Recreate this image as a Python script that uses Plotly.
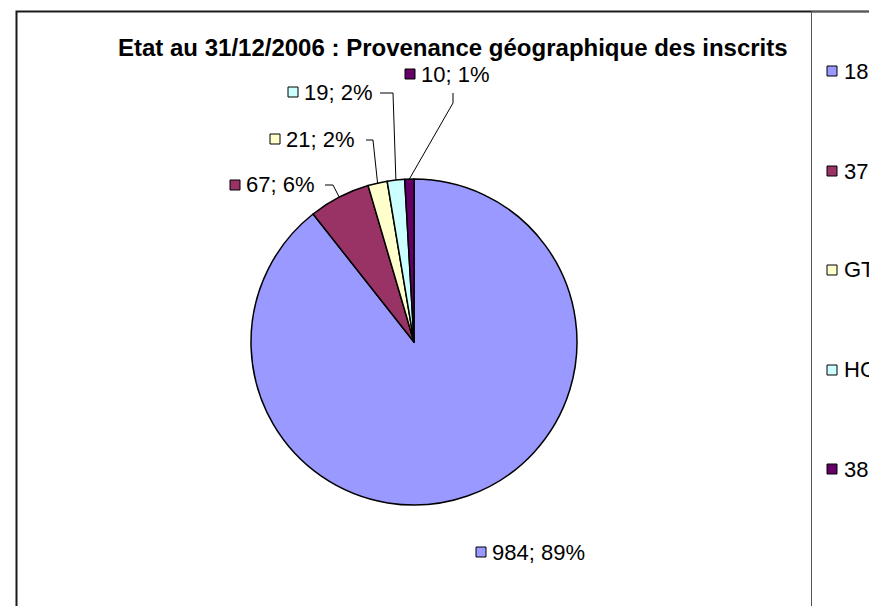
import math
import plotly.graph_objects as go

# Data
categories = ["18", "37", "GT", "HC", "38"]
counts = [984, 67, 21, 19, 10]
colors = ["#9999FF", "#993366", "#FFFFCC", "#CCFFFF", "#660066"]
title_text = "Etat au 31/12/2006 : Provenance géographique des inscrits"

W, H = 869, 606


def px(x):
    return x / W


def py(y):
    return 1 - y / H


# Pie geometry (pixels)
cx, cy, r = 414, 342, 163

total = sum(counts)
label_texts = [f"{v}; {round(100 * v / total)}%" for v in counts]

fig = go.Figure(
    go.Pie(
        labels=categories,
        values=counts,
        sort=False,
        direction="clockwise",
        rotation=0,
        textinfo="none",
        hoverinfo="label+value+percent",
        showlegend=False,
        marker=dict(colors=colors, line=dict(color="black", width=1.5)),
        domain=dict(x=[px(cx - r), px(cx + r)], y=[py(cy + r), py(cy - r)]),
    )
)

shapes = []
annotations = []

# Outer chart frame and legend frame
shapes.append(dict(type="rect", xref="paper", yref="paper",
                   x0=px(16.5), x1=px(1000), y0=py(11.5), y1=py(700),
                   line=dict(color="#1a1a1a", width=2), fillcolor="rgba(0,0,0,0)"))
shapes.append(dict(type="rect", xref="paper", yref="paper",
                   x0=px(811.5), x1=px(1000), y0=py(11.5), y1=py(700),
                   line=dict(color="#555555", width=1), fillcolor="rgba(0,0,0,0)"))

# Title
annotations.append(dict(text=f"<b>{title_text}</b>", xref="paper", yref="paper",
                        x=px(453), y=py(48), xanchor="center", yanchor="middle",
                        showarrow=False, font=dict(family="Liberation Sans, Arial", size=24, color="black")))

# Data labels: marker left edge, vertical centre
label_pos = [(476, 552), (230, 185), (270, 139), (288, 92), (405, 74)]
# Leader line elbows (None = no leader line)
elbows = [None,
          [(325, 185), (333, 185)],
          [(366, 140), (373, 140)],
          [(380, 93), (393, 93)],
          [(453, 93), (453, 103)]]

font_lbl = dict(family="Liberation Sans, Arial", size=22, color="black")
msz = 10

cum = 0
for i, v in enumerate(counts):
    mid = (cum + v / 2) / total
    cum += v
    ang = 2 * math.pi * mid
    ex, ey = cx + r * math.sin(ang), cy - r * math.cos(ang)

    lx, ly = label_pos[i]
    shapes.append(dict(type="rect", xref="paper", yref="paper",
                       x0=px(lx), x1=px(lx + msz), y0=py(ly + msz / 2), y1=py(ly - msz / 2),
                       line=dict(color="black", width=1), fillcolor=colors[i]))
    annotations.append(dict(text=label_texts[i], xref="paper", yref="paper",
                            x=px(lx + msz + 4), y=py(ly), xanchor="left", yanchor="middle",
                            showarrow=False, font=font_lbl))
    if elbows[i]:
        pts = elbows[i] + [(ex, ey)]
        path = "M " + " L ".join(f"{px(a)},{py(b)}" for a, b in pts)
        shapes.append(dict(type="path", xref="paper", yref="paper", path=path,
                           line=dict(color="black", width=1)))

# Legend entries, spread down the right-hand box
legend_y = [71, 171, 270, 370, 469]
for i, name in enumerate(categories):
    ly = legend_y[i]
    shapes.append(dict(type="rect", xref="paper", yref="paper",
                       x0=px(827), x1=px(827 + msz), y0=py(ly + msz / 2), y1=py(ly - msz / 2),
                       line=dict(color="black", width=1), fillcolor=colors[i]))
    annotations.append(dict(text=name, xref="paper", yref="paper",
                            x=px(842), y=py(ly), xanchor="left", yanchor="middle",
                            showarrow=False, font=font_lbl))

fig.update_layout(
    width=W, height=H,
    margin=dict(l=0, r=0, t=0, b=0),
    paper_bgcolor="white",
    plot_bgcolor="white",
    showlegend=False,
    shapes=shapes,
    annotations=annotations,
)

fig.write_html("out.html")
